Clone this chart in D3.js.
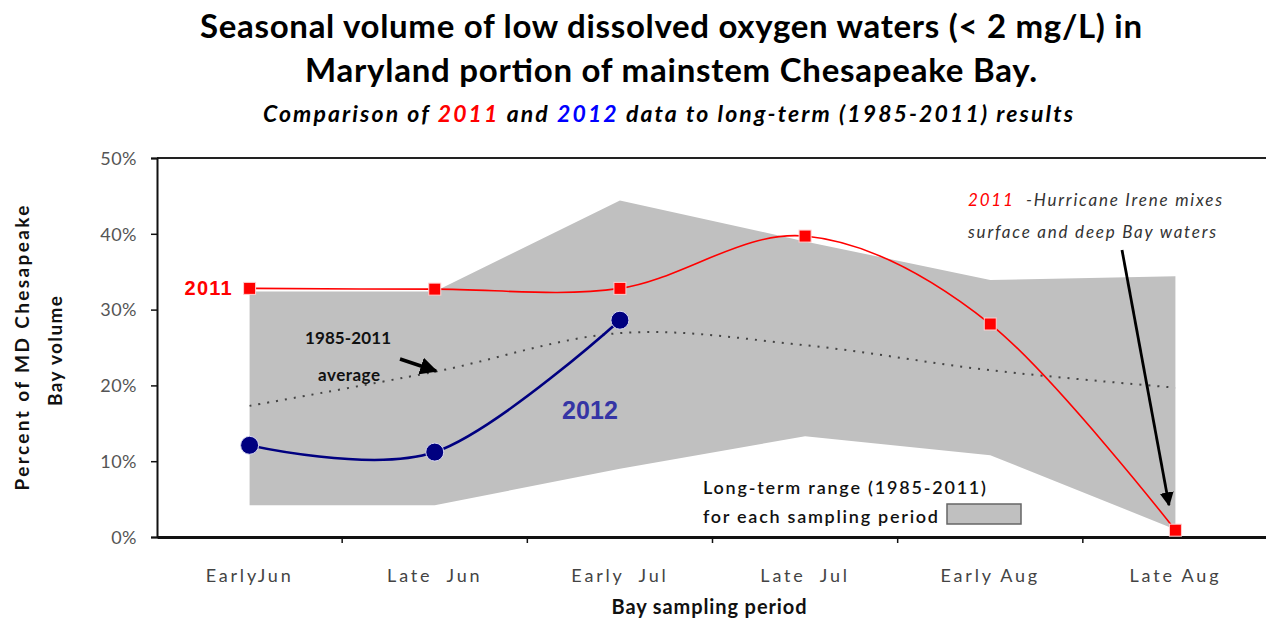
<!DOCTYPE html>
<html>
<head>
<meta charset="utf-8">
<script src="https://cdn.jsdelivr.net/npm/d3@7"></script>
<style>
  body { margin: 0; background: #fff; }
  svg { display: block; }
  text { font-family: Lato, "Open Sans", sans-serif; }
</style>
</head>
<body>
<div id="chart"></div>
<script>
// sampling periods and values (% of MD Bay volume)
const periods = ["EarlyJun", "Late  Jun", "Early  Jul", "Late  Jul", "Early Aug", "Late Aug"];
const vol2011 = [32.8, 32.7, 32.8, 39.7, 28.1, 0.9];
const vol2012 = [12.1, 11.2, 28.6];
const avg8511 = [17.3, 21.8, 26.9, 25.3, 22.0, 19.7];
const rangeLow = [4.2, 4.2, 9.0, 13.3, 10.8, 1.0];
const rangeHigh = [32.4, 32.4, 44.4, 39.0, 33.9, 34.4];
const yTicks = [0, 10, 20, 30, 40, 50];

const W = 1266, H = 620;
const plot = { left: 157, right: 1268, top: 158, bottom: 537 };

const svg = d3.select("#chart").append("svg")
  .attr("width", W).attr("height", H);

const x = d3.scaleBand().domain(periods).range([plot.left, plot.right]).padding(0);
const cx = i => x(periods[i]) + x.bandwidth() / 2;
const y = d3.scaleLinear().domain([0, 50]).range([plot.bottom, plot.top]);

svg.append("defs").append("marker")
  .attr("id", "arrow").attr("viewBox", "0 0 10 10")
  .attr("refX", 9).attr("refY", 5)
  .attr("markerWidth", 5).attr("markerHeight", 5)
  .attr("orient", "auto")
  .append("path").attr("d", "M0,0 L10,5 L0,10 z").attr("fill", "#000");

// helper: one line of text stretched to the width seen in the picture
function label(px, py, str, len, opts = {}) {
  const t = svg.append("text").attr("x", px).attr("y", py)
    .attr("text-anchor", opts.anchor || "start")
    .attr("fill", opts.fill || "#111")
    .style("font-size", (opts.size || 15) + "px")
    .style("font-weight", opts.weight || "normal")
    .style("font-style", opts.italic ? "italic" : "normal")
    .style("white-space", "pre");
  if (str) t.text(str);
  if (len) t.attr("textLength", len).attr("lengthAdjust", "spacing");
  return t;
}

// long-term range band
const band = d3.area()
  .x((d, i) => cx(i))
  .y0((d, i) => y(rangeLow[i]))
  .y1((d, i) => y(rangeHigh[i]));
svg.append("path").datum(periods)
  .attr("d", band).attr("fill", "#c0c0c0");

// top border
svg.append("line")
  .attr("x1", plot.left).attr("x2", W)
  .attr("y1", plot.top).attr("y2", plot.top)
  .attr("stroke", "#222").attr("stroke-width", 2);

// axes
const yAxis = svg.append("g")
  .attr("transform", `translate(${plot.left},0)`)
  .call(d3.axisLeft(y).tickValues(yTicks).tickSize(6).tickFormat(d => d + "%"));
yAxis.select(".domain").attr("stroke", "#111").attr("stroke-width", 2);
yAxis.selectAll(".tick line").attr("stroke", "#111").attr("stroke-width", 1.5);
yAxis.selectAll(".tick text")
  .attr("x", -20).attr("dy", "0.35em")
  .attr("fill", "#555").style("font-size", "18px").style("letter-spacing", "0.5px");

const xAxis = svg.append("g")
  .attr("transform", `translate(0,${plot.bottom})`)
  .call(d3.axisBottom(x).tickSize(0).tickSizeOuter(0));
xAxis.select(".domain").attr("stroke", "#111").attr("stroke-width", 3);
xAxis.selectAll(".tick text")
  .attr("y", 32).attr("fill", "#444")
  .style("font-size", "18px").style("letter-spacing", "2.8px")
  .style("white-space", "pre");
// tick marks between periods
svg.append("g").selectAll("line")
  .data(periods.slice(1))
  .join("line")
  .attr("x1", d => x(d)).attr("x2", d => x(d))
  .attr("y1", plot.bottom).attr("y2", plot.bottom + 6)
  .attr("stroke", "#111").attr("stroke-width", 1.5);

// 1985-2011 average, dotted
const smooth = d3.line().curve(d3.curveCatmullRom.alpha(0));
svg.append("path")
  .attr("d", smooth(avg8511.map((v, i) => [cx(i), y(v)])))
  .attr("fill", "none").attr("stroke", "#444")
  .attr("stroke-width", 2).attr("stroke-dasharray", "2,7");

// 2011 series
svg.append("path")
  .attr("d", smooth(vol2011.map((v, i) => [cx(i), y(v)])))
  .attr("fill", "none").attr("stroke", "#ff0000").attr("stroke-width", 1.6);
svg.append("g").selectAll("rect")
  .data(vol2011)
  .join("rect")
  .attr("x", (d, i) => cx(i) - 6).attr("y", d => y(d) - 6)
  .attr("width", 12).attr("height", 12)
  .attr("fill", "#ff0000").attr("stroke", "#ffd0d0").attr("stroke-width", 1);

// 2012 series
svg.append("path")
  .attr("d", smooth(vol2012.map((v, i) => [cx(i), y(v)])))
  .attr("fill", "none").attr("stroke", "#000080").attr("stroke-width", 2.6);
svg.append("g").selectAll("circle")
  .data(vol2012)
  .join("circle")
  .attr("cx", (d, i) => cx(i)).attr("cy", d => y(d))
  .attr("r", 9).attr("fill", "#000080").attr("stroke", "#d8d8f0").attr("stroke-width", 1);

// series labels
label(cx(0) - 18, y(vol2011[0]) + 7, "2011", 47, { anchor: "end", fill: "#ff0000", size: 20, weight: "bold" })
  .style("font-family", "'Liberation Sans', Arial, sans-serif");
label(590, 419, "2012", 56, { anchor: "middle", fill: "#3535a5", size: 25, weight: "bold" })
  .style("font-family", "'Liberation Sans', Arial, sans-serif");

// average annotation
label(348, 344, "1985-2011", 86, { anchor: "middle", size: 17, weight: "bold" });
label(349, 381, "average", 62, { anchor: "middle", size: 17, weight: "bold" });
svg.append("line")
  .attr("x1", 400).attr("y1", 359).attr("x2", 436).attr("y2", 371)
  .attr("stroke", "#000").attr("stroke-width", 3.5).attr("marker-end", "url(#arrow)");

// hurricane annotation
const h1 = label(968, 206, null, 254, { fill: "#333", size: 17, italic: true });
h1.append("tspan").attr("fill", "#ff0000").text("2011");
h1.append("tspan").text("  -Hurricane Irene mixes");
label(968, 238, "surface and deep Bay waters", 248, { fill: "#333", size: 17, italic: true });
svg.append("line")
  .attr("x1", 1122).attr("y1", 250).attr("x2", 1169).attr("y2", 505)
  .attr("stroke", "#000").attr("stroke-width", 2.8).attr("marker-end", "url(#arrow)");

// legend for range
label(703, 494, "Long-term range (1985-2011)", 283, { size: 18, weight: "600" });
label(703, 523, "for each sampling period", 235, { size: 18, weight: "600" });
svg.append("rect").attr("x", 947).attr("y", 504).attr("width", 74).attr("height", 20)
  .attr("fill", "#c0c0c0").attr("stroke", "#666").attr("stroke-width", 1.5);

// titles
label(671, 38, "Seasonal volume of low dissolved oxygen waters (< 2 mg/L) in", 942,
  { anchor: "middle", fill: "#000", size: 33, weight: "bold" });
label(671, 82, "Maryland portion of mainstem Chesapeake Bay.", 732,
  { anchor: "middle", fill: "#000", size: 33, weight: "bold" });

const sub = label(668, 122, null, 810, { anchor: "middle", fill: "#000", size: 23, weight: "bold", italic: true });
sub.append("tspan").text("Comparison of ");
sub.append("tspan").attr("fill", "#ff0000").text("2011");
sub.append("tspan").text(" and ");
sub.append("tspan").attr("fill", "#0000ff").text("2012");
sub.append("tspan").text(" data to long-term (1985-2011) results");

// axis titles
const yt1 = label(0, 0, "Percent of MD Chesapeake", 285, { anchor: "middle", size: 19, weight: "bold" });
yt1.attr("transform", "translate(29,348) rotate(-90)");
const yt2 = label(0, 0, "Bay volume", 110, { anchor: "middle", size: 19, weight: "bold" });
yt2.attr("transform", "translate(62,351) rotate(-90)");

label(709, 614, "Bay sampling period", 195, { anchor: "middle", size: 20, weight: "bold" });
</script>
</body>
</html>
